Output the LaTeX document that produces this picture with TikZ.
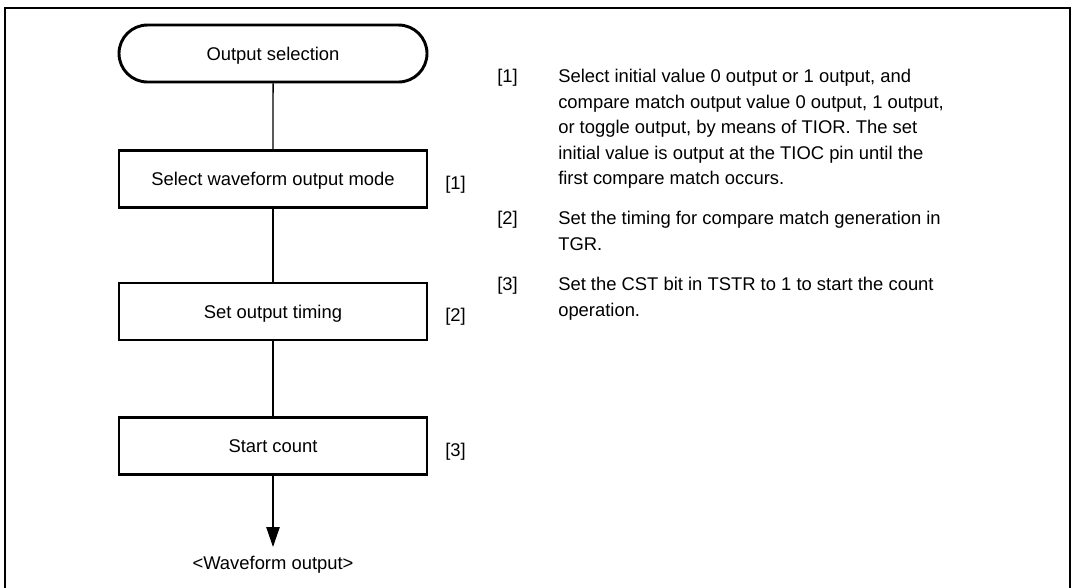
\documentclass[tikz,border=0pt]{standalone}
\usepackage{fontspec}
\setmainfont{Liberation Sans}
\usetikzlibrary{shapes.misc,arrows.meta}
\begin{document}
\begin{tikzpicture}[x=0.75pt,y=-0.75pt,
  every node/.style={font=\fontsize{13.8}{19.1}\selectfont},
  stepbox/.style={draw,line width=2.2pt,minimum width=231pt,minimum height=42.75pt,inner sep=0pt,text depth=0pt},
  termbox/.style={stepbox,rounded rectangle},
  conn/.style={line width=1.1pt},
  ref/.style={inner sep=0pt,anchor=west},
  para/.style={inner sep=0pt,anchor=north west,align=left}]
\useasboundingbox (0,0) rectangle (1073,587);
\draw[line width=2.2pt] (5,600) -- (5,8) -- (1070,8) -- (1070,600);
\node[termbox] (start) at (273,53.5) {Output selection};
\node[stepbox] (s1) at (273,179) {Select waveform output mode};
\node[stepbox] (s2) at (273,311.5) {Set output timing};
\node[stepbox] (s3) at (273,446) {Start count};
\node[inner sep=0pt] (out) at (273,565) {<Waveform output>};
\node[ref] (l1) at (445,185) {[1]};
\node[ref] (l2) at (445,317) {[2]};
\node[ref] (l3) at (445,452) {[3]};
\draw[conn] (start) -- (s1);
\draw[conn] (s1) -- (s2);
\draw[conn] (s2) -- (s3);
\draw[conn,-{Triangle[length=15pt,width=10pt]}] (s3) -- (273,547) coordinate (tip);
\node[para] (n1) at (497,69) {[1]};
\node[para] (t1) at (558,69) {Select initial value 0 output or 1 output, and\\compare match output value 0 output, 1 output,\\or toggle output, by means of TIOR. The set\\initial value is output at the TIOC pin until the\\first compare match occurs.};
\node[para] (n2) at (497,211) {[2]};
\node[para] (t2) at (558,211) {Set the timing for compare match generation in\\TGR.};
\node[para] (n3) at (497,277) {[3]};
\node[para] (t3) at (558,277) {Set the CST bit in TSTR to 1 to start the count\\operation.};
\end{tikzpicture}
\end{document}
